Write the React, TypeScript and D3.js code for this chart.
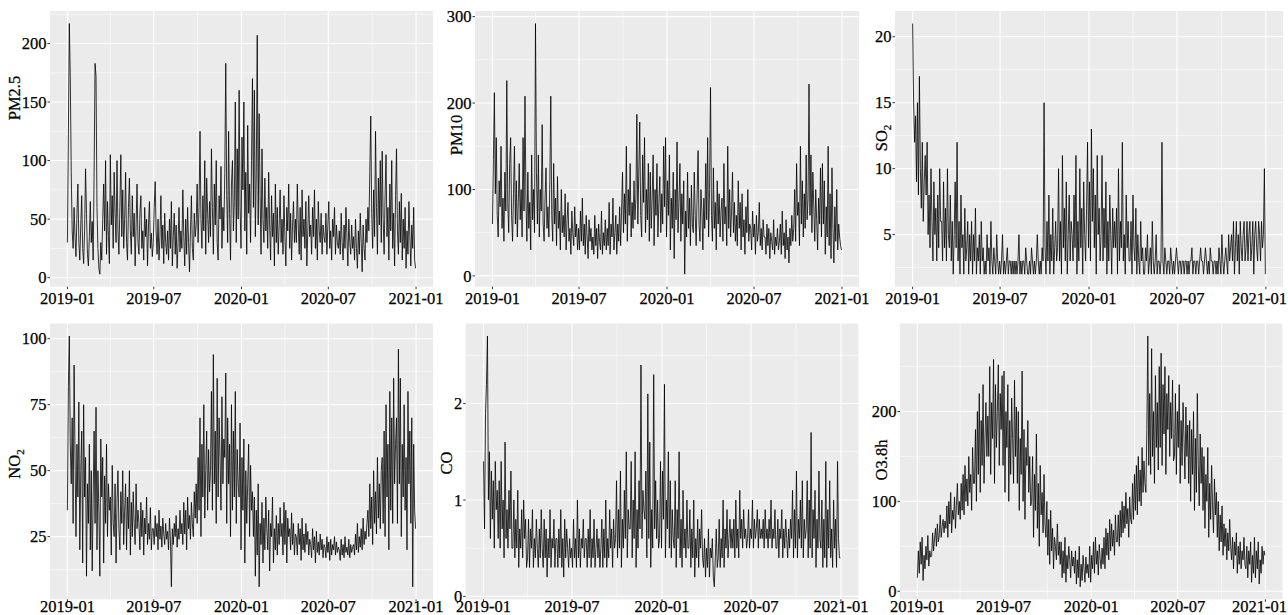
import React from "react";
import * as d3 from "d3";

// one reading every 2 days, 2019-01-01 .. 2020-12-31 (rows = 30-day blocks)
const dates = d3.utcDay.range(new Date(Date.UTC(2019, 0, 1)), new Date(Date.UTC(2021, 0, 1)), 2);

const xMajor = ["2019-01-01", "2019-07-01", "2020-01-01", "2020-07-01", "2021-01-01"];
const xMinor = ["2019-04-01", "2019-10-01", "2020-04-01", "2020-10-01"];

const pm25 = [
  30, 123, 217, 172, 90, 40, 25, 60, 35, 18, 55, 80, 30, 15, 45,
  70, 25, 12, 40, 93, 55, 20, 10, 35, 65, 30, 48, 15, 90, 183,
  172, 60, 25, 8, 3, 30, 15, 50, 80, 40, 100, 20, 65, 35, 12,
  105, 45, 70, 25, 90, 55, 30, 100, 40, 20, 60, 105, 35, 75, 25,
  50, 90, 30, 15, 60, 85, 40, 20, 70, 35, 55, 10, 45, 80, 30,
  20, 55, 70, 25, 40, 15, 60, 35, 50, 10, 45, 65, 25, 38, 18,
  30, 60, 82, 40, 20, 50, 15, 35, 70, 25, 45, 12, 55, 30, 20,
  40, 15, 50, 25, 65, 10, 35, 55, 20, 45, 8, 30, 60, 22, 40,
  25, 75, 35, 10, 50, 20, 60, 30, 5, 40, 70, 25, 15, 55, 35,
  45, 80, 30, 60, 125, 50, 25, 70, 40, 100, 20, 85, 55, 30, 65,
  35, 110, 60, 20, 80, 45, 100, 30, 15, 70, 50, 95, 25, 60, 40,
  90, 183, 70, 30, 125, 55, 15, 80, 100, 40, 65, 150, 30, 110, 50,
  160, 60, 25, 120, 75, 150, 40, 90, 20, 130, 55, 80, 30, 100, 170,
  60, 160, 35, 90, 207, 45, 140, 70, 20, 110, 50, 30, 85, 40, 60,
  25, 90, 45, 15, 70, 35, 55, 10, 80, 30, 60, 20, 45, 75, 30,
  50, 20, 70, 35, 10, 60, 40, 80, 25, 55, 15, 45, 65, 30, 50,
  30, 80, 45, 20, 60, 15, 75, 35, 50, 25, 65, 10, 40, 70, 35,
  45, 20, 60, 35, 75, 25, 50, 15, 65, 40, 30, 55, 20, 45, 35,
  30, 55, 20, 45, 65, 25, 40, 15, 50, 35, 60, 20, 45, 30, 25,
  40, 20, 55, 30, 15, 45, 25, 60, 35, 10, 50, 30, 20, 45, 25,
  35, 15, 50, 25, 8, 40, 20, 55, 30, 5, 45, 25, 15, 50, 30,
  60, 40, 90, 138, 55, 25, 75, 35, 125, 60, 20, 85, 45, 100, 30,
  108, 50, 20, 70, 105, 35, 60, 15, 80, 40, 100, 25, 55, 10, 70,
  110, 40, 20, 65, 30, 72, 15, 50, 25, 60, 8, 40, 20, 65, 35, 10, 45, 25, 60, 15, 8,
];

const pm10 = [
  60, 135, 212, 95, 160, 70, 45, 110, 80, 150, 55, 90, 40, 120, 75,
  226, 85, 50, 130, 160, 70, 40, 95, 150, 60, 110, 45, 85, 130, 65,
  100, 45, 160, 75, 208, 90, 40, 120, 55, 85, 30, 140, 65, 100, 50,
  292, 120, 60, 140, 45, 100, 75, 175, 60, 40, 90, 125, 55, 80, 45,
  110, 208, 70, 40, 130, 60, 90, 35, 115, 55, 75, 30, 100, 50, 70,
  45, 95, 30, 65, 85, 40, 55, 25, 75, 50, 35, 80, 45, 60, 30,
  55, 30, 75, 40, 90, 35, 60, 25, 70, 45, 20, 65, 40, 55, 30,
  45, 25, 70, 35, 55, 20, 60, 40, 30, 75, 25, 50, 35, 65, 30,
  55, 35, 85, 25, 60, 45, 90, 30, 50, 70, 25, 60, 40, 80, 35,
  75, 120, 50, 95, 60, 150, 40, 100, 70, 130, 45, 85, 55, 110, 65,
  90, 187, 60, 120, 178, 70, 45, 140, 85, 160, 50, 100, 65, 130, 40,
  120, 55, 90, 140, 35, 100, 70, 130, 45, 85, 115, 50, 95, 60, 150,
  80, 160, 45, 110, 70, 140, 30, 90, 55, 120, 20, 100, 65, 155, 50,
  85, 130, 40, 95, 60, 110, 2, 75, 45, 120, 55, 90, 35, 105, 60,
  50, 120, 70, 35, 95, 145, 60, 40, 100, 75, 30, 90, 55, 130, 65,
  160, 45, 100, 218, 70, 40, 125, 55, 85, 30, 110, 60, 95, 45, 75,
  90, 40, 130, 60, 80, 35, 150, 55, 100, 45, 75, 120, 50, 85, 40,
  70, 35, 110, 55, 85, 30, 95, 45, 65, 25, 80, 50, 100, 40, 60,
  55, 30, 75, 45, 60, 25, 70, 40, 50, 85, 35, 55, 30, 65, 45,
  45, 25, 60, 35, 55, 20, 50, 40, 30, 65, 25, 45, 35, 55, 30,
  40, 60, 25, 75, 35, 50, 20, 65, 30, 45, 15, 55, 35, 70, 40,
  55, 100, 40, 130, 70, 85, 35, 150, 60, 110, 45, 95, 55, 140, 65,
  90, 222, 70, 140, 50, 120, 80, 40, 100, 65, 30, 90, 60, 125, 45,
  130, 60, 110, 25, 80, 45, 150, 35, 95, 20, 125, 55, 15, 80, 40, 100, 30, 60, 45, 35, 30,
];

const so2 = [
  21, 15, 12, 14, 9, 15, 8, 17, 10, 7, 12, 6, 9, 11, 8,
  12, 5, 8, 4, 10, 6, 3, 9, 5, 7, 3, 8, 4, 10, 6,
  6, 3, 9, 4, 7, 3, 10, 5, 4, 8, 3, 6, 2, 5, 9,
  4, 12, 3, 6, 2, 8, 4, 5, 2, 7, 3, 4, 6, 2, 5,
  3, 6, 2, 5, 3, 7, 2, 4, 3, 5, 2, 6, 3, 4, 2,
  3, 2, 5, 3, 4, 2, 6, 3, 2, 4, 3, 2, 5, 3, 2,
  3, 2, 3, 5, 2, 3, 2, 3, 4, 2, 3, 3, 2, 3, 2,
  3, 2, 3, 2, 3, 5, 2, 3, 2, 3, 3, 2, 4, 3, 2,
  2, 3, 2, 4, 3, 2, 3, 2, 3, 5, 3, 2, 3, 2, 4,
  3, 15, 4, 2, 6, 3, 8, 2, 5, 3, 7, 2, 4, 6, 3,
  4, 10, 3, 6, 2, 11, 4, 7, 3, 9, 2, 5, 8, 3, 6,
  5, 3, 8, 4, 11, 2, 6, 3, 10, 4, 7, 2, 9, 5, 3,
  7, 12, 4, 9, 3, 13, 6, 10, 4, 8, 2, 11, 5, 7, 3,
  5, 11, 3, 7, 4, 9, 2, 6, 3, 8, 5, 2, 7, 4, 6,
  4, 7, 2, 10, 3, 6, 4, 12, 3, 5, 2, 8, 4, 6, 3,
  3, 6, 2, 8, 4, 3, 7, 2, 5, 3, 2, 6, 3, 4, 2,
  2, 4, 3, 5, 2, 3, 4, 2, 6, 3, 2, 3, 5, 2, 3,
  3, 2, 3, 12, 3, 2, 4, 3, 2, 3, 3, 2, 4, 3, 2,
  3, 2, 3, 4, 3, 2, 3, 3, 2, 3, 3, 2, 3, 3, 2,
  3, 2, 3, 3, 4, 2, 3, 3, 2, 3, 3, 2, 3, 4, 3,
  3, 2, 3, 4, 3, 2, 3, 2, 4, 3, 3, 2, 3, 3, 2,
  3, 2, 4, 3, 2, 5, 3, 2, 3, 4, 3, 2, 5, 3, 4,
  5, 3, 6, 2, 4, 6, 3, 5, 2, 6, 4, 3, 5, 6, 3,
  4, 6, 3, 5, 6, 3, 4, 6, 2, 5, 6, 4, 3, 6, 5, 3, 6, 4, 5, 10, 2,
];

const no2 = [
  35, 82, 101, 60, 45, 70, 30, 90, 55, 25, 60, 40, 76, 20, 50,
  65, 15, 75, 40, 55, 10, 45, 30, 60, 20, 50, 12, 40, 65, 30,
  74, 20, 50, 35, 10, 62, 40, 55, 15, 48, 30, 60, 25, 45, 35,
  40, 18, 52, 30, 25, 45, 15, 38, 50, 28, 20, 42, 30, 50, 22,
  35, 45, 20, 40, 28, 50, 18, 38, 25, 42, 30, 22, 45, 28, 35,
  30, 20, 38, 25, 35, 18, 32, 26, 40, 22, 30, 24, 36, 20, 28,
  28, 22, 33, 25, 30, 20, 35, 24, 29, 21, 32, 26, 22, 30, 24,
  27, 20, 32, 24, 6, 28, 22, 30, 25, 33, 21, 28, 24, 35, 26,
  30, 22, 38, 26, 35, 20, 40, 28, 33, 24, 38, 30, 25, 42, 32,
  45, 30, 55, 35, 70, 25, 60, 40, 75, 32, 50, 65, 35, 58, 42,
  50, 80, 35, 94, 45, 65, 30, 85, 40, 70, 55, 35, 78, 45, 62,
  55, 87, 30, 70, 45, 60, 25, 75, 35, 65, 40, 80, 30, 58, 45,
  40, 68, 20, 55, 35, 62, 15, 50, 30, 45, 60, 25, 52, 35, 42,
  25, 40, 10, 35, 18, 45, 6, 30, 22, 38, 15, 32, 20, 40, 28,
  20, 35, 12, 30, 25, 40, 15, 28, 20, 33, 18, 30, 22, 36, 25,
  30, 18, 38, 22, 35, 15, 32, 25, 28, 20, 34, 22, 30, 18, 26,
  25, 18, 30, 22, 28, 16, 32, 20, 26, 19, 30, 22, 27, 18, 24,
  22, 17, 28, 20, 25, 15, 27, 19, 23, 18, 26, 20, 24, 17, 22,
  21, 17, 25, 19, 23, 16, 24, 18, 22, 20, 25, 18, 23, 19, 21,
  20, 16, 24, 18, 22, 17, 25, 19, 21, 18, 24, 17, 22, 19, 21,
  22, 18, 26, 20, 30, 19, 25, 21, 28, 20, 32, 22, 27, 24, 30,
  35, 25, 45, 28, 40, 22, 50, 30, 42, 26, 55, 32, 45, 28, 50,
  55, 30, 65, 25, 75, 40, 60, 20, 80, 35, 70, 30, 85, 45, 60,
  70, 30, 96, 45, 85, 25, 60, 40, 75, 35, 55, 20, 80, 45, 65, 30, 70, 6, 60, 35, 28,
];

const co = [
  1.4, 0.7, 1.9, 2.2, 2.7, 1.0, 1.5, 0.6, 1.3, 0.8, 1.2, 0.5, 1.4, 0.9, 1.1,
  0.6, 1.2, 0.5, 1.4, 0.7, 1.0, 0.4, 1.6, 0.6, 0.9, 0.5, 1.1, 0.7, 1.3, 0.5,
  0.5, 1.0, 0.4, 0.8, 0.5, 1.1, 0.3, 0.7, 0.5, 0.9, 0.4, 1.0, 0.6, 0.8, 0.3,
  0.4, 0.8, 0.3, 0.7, 0.5, 0.9, 0.3, 0.6, 0.4, 0.8, 0.5, 0.3, 0.7, 0.4, 0.9,
  0.5, 0.3, 0.8, 0.4, 0.7, 0.2, 0.6, 0.4, 0.9, 0.3, 0.6, 0.5, 0.8, 0.3, 0.6,
  0.6, 0.3, 0.7, 0.4, 0.9, 0.3, 0.6, 0.2, 0.8, 0.4, 0.7, 0.5, 0.3, 0.6, 0.4,
  0.5, 0.3, 0.8, 0.4, 0.6, 0.3, 1.0, 0.4, 0.7, 0.3, 0.6, 0.5, 0.8, 0.4, 0.6,
  0.6, 0.3, 0.7, 0.4, 0.9, 0.3, 0.6, 0.4, 0.8, 0.3, 0.5, 0.7, 0.4, 0.6, 0.3,
  0.5, 0.8, 0.3, 0.7, 0.4, 1.0, 0.3, 0.6, 0.4, 0.9, 0.5, 0.7, 0.3, 0.8, 0.5,
  0.6, 1.2, 0.4, 0.9, 0.5, 1.3, 0.3, 0.8, 0.5, 1.1, 0.6, 1.5, 0.4, 0.9, 0.7,
  0.7, 1.4, 0.4, 1.0, 0.6, 1.5, 0.3, 0.9, 0.5, 1.2, 0.7, 2.4, 0.6, 1.1, 0.9,
  0.8, 1.3, 0.4, 2.1, 0.6, 1.6, 0.3, 0.9, 0.5, 2.3, 0.7, 1.2, 0.6, 1.0, 0.5,
  0.6, 1.4, 0.5, 1.3, 0.8, 2.2, 0.4, 1.0, 0.7, 1.5, 0.5, 1.2, 0.4, 0.9, 0.6,
  0.5, 1.2, 0.3, 0.9, 0.6, 1.5, 0.4, 0.8, 0.3, 1.1, 0.5, 0.7, 0.4, 1.0, 0.5,
  0.5, 0.9, 0.3, 0.7, 0.4, 1.0, 0.2, 0.6, 0.4, 0.8, 0.3, 0.7, 0.5, 0.9, 0.4,
  0.3, 0.6, 0.2, 0.5, 0.3, 0.7, 0.2, 0.5, 0.4, 0.6, 0.2, 0.1, 0.4, 0.7, 0.3,
  0.4, 0.8, 0.3, 0.6, 0.4, 1.0, 0.3, 0.7, 0.5, 0.9, 0.4, 0.6, 0.8, 0.5, 0.7,
  0.5, 0.8, 0.4, 1.0, 0.5, 0.7, 0.4, 1.1, 0.6, 0.8, 0.5, 0.9, 0.6, 0.7, 0.5,
  0.6, 0.9, 0.5, 0.7, 0.6, 1.0, 0.5, 0.8, 0.6, 0.7, 0.9, 0.5, 0.8, 0.6, 0.7,
  0.6, 0.8, 0.5, 0.9, 0.6, 0.7, 0.5, 0.8, 0.6, 1.0, 0.5, 0.7, 0.6, 0.9, 0.5,
  0.5, 0.8, 0.4, 0.7, 0.6, 0.9, 0.4, 0.7, 0.5, 0.8, 0.6, 0.4, 0.7, 0.5, 0.8,
  0.6, 1.1, 0.4, 0.9, 0.5, 1.3, 0.4, 0.8, 0.6, 1.0, 0.5, 1.2, 0.4, 0.8, 0.6,
  0.7, 1.2, 0.4, 1.0, 0.5, 1.7, 0.4, 0.9, 0.6, 1.1, 0.3, 0.8, 0.5, 1.3, 0.6,
  0.5, 1.0, 0.3, 0.8, 0.4, 1.4, 0.3, 0.9, 0.5, 1.2, 0.4, 0.7, 0.3, 1.0, 0.5, 0.8, 0.3, 1.4, 0.6, 0.4, 0.4,
];

const o3 = [
  15, 45, 20, 55, 30, 60, 12, 40, 25, 50, 35, 62, 28, 45, 38,
  40, 65, 45, 58, 70, 50, 75, 55, 62, 85, 60, 72, 80, 65, 78,
  70, 95, 60, 100, 75, 110, 65, 90, 80, 105, 70, 95, 120, 85, 100,
  80, 120, 90, 130, 85, 140, 100, 125, 95, 150, 110, 130, 90, 160, 120,
  120, 180, 100, 200, 130, 220, 110, 190, 140, 230, 120, 170, 210, 150, 195,
  150, 250, 130, 210, 170, 258, 120, 230, 160, 200, 252, 140, 220, 180, 240,
  140, 245, 110, 200, 160, 230, 100, 190, 130, 215, 170, 120, 235, 150, 205,
  120, 200, 90, 170, 130, 245, 100, 180, 80, 160, 140, 190, 110, 150, 95,
  100, 150, 60, 130, 90, 175, 70, 120, 50, 140, 85, 110, 65, 130, 75,
  60, 100, 40, 80, 30, 90, 45, 70, 25, 60, 50, 35, 75, 40, 55,
  30, 55, 15, 45, 20, 60, 10, 40, 25, 50, 35, 15, 45, 28, 38,
  20, 45, 8, 35, 15, 50, 5, 30, 12, 40, 25, 10, 38, 20, 30,
  15, 50, 10, 40, 25, 55, 20, 60, 30, 45, 18, 52, 35, 25, 48,
  30, 60, 25, 70, 40, 65, 35, 80, 45, 75, 50, 68, 40, 85, 55,
  55, 85, 50, 90, 60, 100, 65, 95, 70, 110, 75, 92, 60, 105, 80,
  75, 120, 80, 130, 90, 140, 85, 150, 100, 135, 95, 160, 110, 145, 120,
  110, 180, 284, 140, 220, 130, 270, 150, 200, 120, 240, 160, 210, 135, 250,
  160, 265, 140, 230, 175, 250, 130, 220, 180, 240, 150, 210, 170, 235, 145,
  150, 220, 130, 200, 160, 230, 120, 190, 140, 210, 170, 125, 205, 150, 185,
  120, 190, 100, 180, 130, 200, 90, 170, 110, 220, 140, 95, 175, 120, 160,
  90, 150, 70, 130, 100, 160, 60, 120, 80, 140, 95, 65, 125, 85, 110,
  60, 100, 45, 85, 55, 95, 40, 75, 50, 70, 35, 65, 45, 80, 50,
  35, 60, 25, 55, 40, 65, 20, 50, 30, 55, 25, 45, 35, 60, 30,
  25, 50, 15, 45, 30, 55, 10, 40, 20, 60, 15, 45, 25, 55, 8, 35, 20, 50, 30, 45, 40,
];

const FONT = "'Liberation Serif', 'Times New Roman', serif";
const W = 1288;

const panels = [
  { values: pm25, name: "PM2.5", sub: "", ticks: [0, 50, 100, 150, 200], box: [50, 433, 11, 286.7], tx: 14, ty: 98, lab: 304 },
  { values: pm10, name: "PM10", sub: "", ticks: [0, 100, 200, 300], box: [475, 859, 11, 286.7], tx: 456, ty: 135, lab: 304 },
  { values: so2, name: "SO", sub: "2", ticks: [5, 10, 15, 20], box: [895, 1283, 11, 286.7], tx: 881, ty: 138, lab: 304 },
  { values: no2, name: "NO", sub: "2", ticks: [25, 50, 75, 100], box: [50, 433, 323.5, 599.3], tx: 14, ty: 464, lab: 612 },
  { values: co, name: "CO", sub: "", ticks: [0, 1, 2], box: [465.7, 858.3, 323.5, 599.3], tx: 446, ty: 463, lab: 612 },
  { values: o3, name: "O3.8h", sub: "", ticks: [0, 100, 200], box: [900, 1282.3, 323.5, 599.3], tx: 881, ty: 460, lab: 612 },
];

function Panel({ p }: { p: any }) {
  const [x0, x1, y0, y1] = p.box;
  const n = Math.min(p.values.length, dates.length);
  const pts = d3.range(n).map((i) => [dates[i], p.values[i]] as [Date, number]);

  const [lo, hi] = d3.extent(p.values as number[]) as [number, number];
  const r = hi - lo;
  const y = d3.scaleLinear().domain([lo - 0.05 * r, hi + 0.05 * r]).range([y1, y0]);

  const t0 = +dates[0], t1 = +dates[n - 1];
  const span = t1 - t0;
  const x = d3.scaleUtc().domain([new Date(t0 - 0.05 * span), new Date(t1 + 0.05 * span)]).range([x0, x1]);

  const line = d3.line<[Date, number]>().x((d) => x(d[0])).y((d) => y(d[1]));

  // minor y breaks: halfway between majors, extended one step at each end
  const step = p.ticks[1] - p.ticks[0];
  const [dLo, dHi] = y.domain();
  const yMinor = d3.range(p.ticks[0] - step / 2, p.ticks[p.ticks.length - 1] + step, step)
    .filter((v: number) => v >= dLo && v <= dHi);

  const fmt = d3.utcFormat("%Y-%m");
  const txt = { fontSize: 16.5, fontFamily: FONT, fill: "#000", stroke: "#000", strokeWidth: 0.25 };

  return (
    <g>
      <rect x={x0} y={y0} width={x1 - x0} height={y1 - y0} fill="#EBEBEB" />
      {yMinor.map((v: number) => (
        <line key={"ym" + v} x1={x0} x2={x1} y1={y(v)} y2={y(v)} stroke="#fff" strokeWidth={0.55} />
      ))}
      {xMinor.map((s) => {
        const xv = x(new Date(s));
        return <line key={"xm" + s} x1={xv} x2={xv} y1={y0} y2={y1} stroke="#fff" strokeWidth={0.55} />;
      })}
      {p.ticks.map((v: number) => (
        <line key={"yM" + v} x1={x0} x2={x1} y1={y(v)} y2={y(v)} stroke="#fff" strokeWidth={1.1} />
      ))}
      {xMajor.map((s) => {
        const xv = x(new Date(s));
        return <line key={"xM" + s} x1={xv} x2={xv} y1={y0} y2={y1} stroke="#fff" strokeWidth={1.1} />;
      })}

      <path d={line(pts) || ""} fill="none" stroke="#000" strokeWidth={0.8} strokeLinejoin="round" />

      {p.ticks.map((v: number) => (
        <g key={"yt" + v}>
          <line x1={x0 - 2.5} x2={x0} y1={y(v)} y2={y(v)} stroke="#333" strokeWidth={1} />
          <text x={x0 - 3.5} y={y(v)} dy="0.34em" textAnchor="end" {...txt}>
            {v}
          </text>
        </g>
      ))}
      {xMajor.map((s) => {
        const d = new Date(s);
        const xv = x(d);
        // keep the rightmost label inside the picture
        const over = xv + 27.5 > W - 1;
        return (
          <g key={"xt" + s}>
            <line x1={xv} x2={xv} y1={y1} y2={y1 + 2.5} stroke="#333" strokeWidth={1} />
            <text x={over ? W - 1 : xv} y={p.lab} textAnchor={over ? "end" : "middle"} {...txt}>
              {fmt(d)}
            </text>
          </g>
        );
      })}

      <text transform={`translate(${p.tx},${p.ty}) rotate(-90)`} textAnchor="middle" dy="0.35em" {...txt}>
        {p.name}
        {p.sub && <tspan fontSize={11} dy="4">{p.sub}</tspan>}
      </text>
    </g>
  );
}

export default function App() {
  return (
    <svg width={W} height={615} style={{ position: "absolute", left: 0, top: 0, background: "#fff" }}>
      {panels.map((p, i) => (
        <Panel key={i} p={p} />
      ))}
    </svg>
  );
}
